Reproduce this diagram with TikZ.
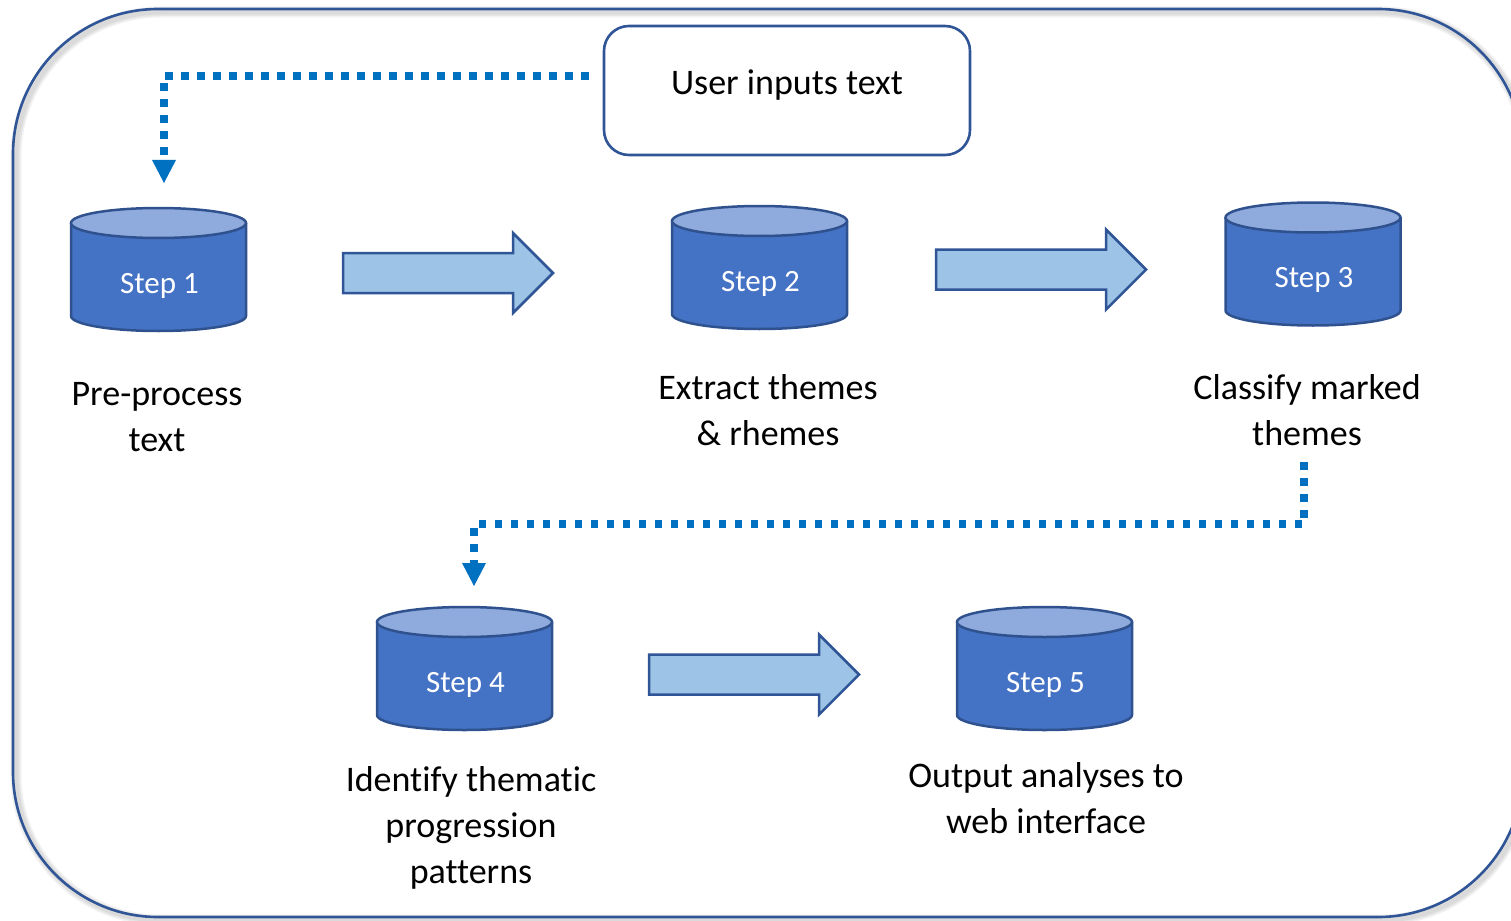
\documentclass[tikz,border=0pt]{standalone}
\usepackage{fontspec}
\setmainfont{Carlito}[Ligatures=NoCommon]
\usetikzlibrary{arrows.meta,calc}

\definecolor{frameblue}{HTML}{2F5597}
\definecolor{drumedge}{HTML}{2F528F}
\definecolor{drumblue}{HTML}{4472C4}
\definecolor{lidblue}{HTML}{8FAADC}
\definecolor{arrowfill}{HTML}{9DC3E6}
\definecolor{linkblue}{HTML}{0070C0}

\tikzset{
  x=1pt, y=1pt,
  frameline/.style={draw=frameblue, line width=2.6pt, rounded corners=145pt},
  frameshade/.style={draw=black, opacity=0.05, rounded corners=145pt},
  userbox/.style={draw=frameblue, line width=2.6pt, rounded corners=25pt, fill=white,
    minimum width=366pt, minimum height=129pt, inner sep=0pt,
    font=\fontsize{36}{44}\selectfont, text height=26pt, text depth=18pt},
  labeltext/.style={font=\fontsize{36}{46}\selectfont, align=center, inner sep=0pt},
  drumtext/.style={font=\fontsize{31}{37}\selectfont, text=white, inner sep=0pt},
  drumbody/.style={fill=drumblue, draw=drumedge, line width=2.5pt, line join=round},
  drumlid/.style={fill=lidblue, draw=drumedge, line width=2.5pt},
  blockarrow/.style={fill=arrowfill, draw=frameblue, line width=2.5pt, line join=miter},
  dotlink/.style={draw=linkblue, line width=7.5pt, dash pattern=on 7.5pt off 8.5pt,
    line join=miter, -{Triangle[length=23pt,width=24pt,line width=0pt]}},
}

% storage drum: #1 name, #2 centre x, #3 centre y, #4 caption
\newcommand\stepdrum[4]{%
  \path[drumbody] (#2-87.5,#3+46.5) -- (#2-87.5,#3-46.5)
    arc[start angle=180, end angle=360, x radius=87.5pt, y radius=15pt]
    -- (#2+87.5,#3+46.5) -- cycle;
  \path[drumlid] (#2,#3+46.5) ellipse[x radius=87.5pt, y radius=15pt];
  \node[drumtext] (#1) at (#2+1,#3-16) {#4};
}

% wide block arrow: #1 tail x, #2 tip x, #3 centre y
\newcommand\flowarrow[3]{%
  \path[blockarrow] (#1,#3+20) -- (#2-40,#3+20) -- (#2-40,#3+40) -- (#2,#3)
    -- (#2-40,#3-40) -- (#2-40,#3-20) -- (#1,#3-20) -- cycle;
}

\begin{document}
\begin{tikzpicture}
\useasboundingbox (0,0) rectangle (1511,-920);
\clip (0,0) rectangle (1511,-920);

% outer frame with a soft shadow
\foreach \w in {11,8,5} {
  \draw[frameshade, line width=\w pt] (16,-12) rectangle (1526,-920);
}
\draw[frameline] (13,-9) rectangle (1523,-917);

% input box
\node[userbox] (user) at (787,-90.5) {User inputs text};

% steps
\stepdrum{s1}{158.5}{-269.5}{Step 1}
\stepdrum{s2}{759.5}{-267.5}{Step 2}
\stepdrum{s3}{1313}{-264}{Step 3}
\stepdrum{s4}{464.5}{-668.5}{Step 4}
\stepdrum{s5}{1044.5}{-668.5}{Step 5}

% captions
\node[labeltext] (l1) at (157,-417) {Pre-process\\text};
\node[labeltext] (l2) at (768,-410) {Extract themes\\\& rhemes};
\node[labeltext] (l3) at (1307,-410) {Classify marked\\themes};
\node[labeltext] (l4) at (471,-828) {Identify thematic\\progression\\patterns};
\node[labeltext] (l5) at (1046,-798) {Output analyses to\\web interface};

% block arrows between steps
\flowarrow{343}{553}{-273}
\flowarrow{936}{1146}{-269.5}
\flowarrow{649}{859}{-674.5}

% dotted links
\coordinate (a0) at ($(user.west)+(-14,14.5)$);
\coordinate (a1) at (164,-183);
\draw[dotlink] (a0) -| (a1);

\coordinate (b0) at (1304,-462);
\coordinate (b1) at (474,-586);
\draw[dotlink] (b0) |- (474,-524) -- (b1);
\end{tikzpicture}
\end{document}
